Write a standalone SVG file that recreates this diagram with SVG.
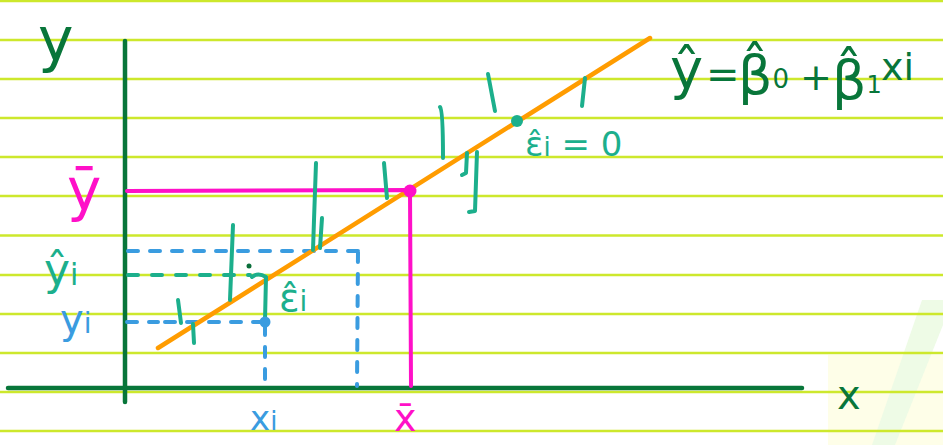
<svg xmlns="http://www.w3.org/2000/svg" width="943" height="445" viewBox="0 0 943 445">
<style>
.rule{stroke:#cde82c;stroke-width:2.5}
.axis{stroke:#08763a;stroke-width:4.5;stroke-linecap:round;fill:none}
.fit{stroke:#ff9c00;stroke-width:4.5;stroke-linecap:round;fill:none}
.mag{stroke:#ff10c8;stroke-width:4;stroke-linecap:round;fill:none}
.bdash{stroke:#3a9ce0;stroke-width:4;stroke-linecap:round;stroke-dasharray:10 12;fill:none}
.tdash{stroke:#1caf8c;stroke-width:4;stroke-linecap:round;stroke-dasharray:10 14;fill:none}
.res{stroke:#1caf8c;stroke-width:4;stroke-linecap:round;stroke-linejoin:round;fill:none}
.t{font-family:"DejaVu Sans","Liberation Sans",sans-serif}
.dg{fill:#08763a}.tl{fill:#1caf8c}.bl{fill:#3a9ce0}.mg{fill:#ff10c8}
</style>
<rect width="943" height="445" fill="#ffffff"/>
<g id="watermark">
<rect x="828" y="355" width="115" height="90" fill="#fefee8"/>
<polygon points="922,300 943,300 943,325 895,445 872,445" fill="#eefbe6"/>
</g>
<g id="ruling">
<line class="rule" x1="0" y1="1" x2="943" y2="1"/>
<line class="rule" x1="0" y1="40" x2="943" y2="40"/>
<line class="rule" x1="0" y1="79" x2="943" y2="79"/>
<line class="rule" x1="0" y1="118" x2="943" y2="118"/>
<line class="rule" x1="0" y1="157" x2="943" y2="157"/>
<line class="rule" x1="0" y1="196" x2="943" y2="196"/>
<line class="rule" x1="0" y1="235.5" x2="943" y2="235.5"/>
<line class="rule" x1="0" y1="275" x2="943" y2="275"/>
<line class="rule" x1="0" y1="314" x2="943" y2="314"/>
<line class="rule" x1="0" y1="353" x2="943" y2="353"/>
<line class="rule" x1="0" y1="392" x2="943" y2="392"/>
<line class="rule" x1="0" y1="431" x2="943" y2="431"/>
</g>
<g id="connectors">
<line class="axis" x1="125" y1="41" x2="125" y2="402"/>
<line class="axis" x1="8" y1="388" x2="802" y2="388"/>
<path class="bdash" d="M128 251 H358 M358 252 L357 386"/>
<path class="tdash" d="M128 275 H250"/>
<path class="bdash" d="M127 322 H158 M165 322 H263"/>
<path class="bdash" d="M265 325 L265 386" stroke-dasharray="8 10"/>
<line class="fit" x1="158" y1="348" x2="650" y2="38"/>
<path class="mag" d="M127 191 L410 190 L411 386"/>
<circle cx="410" cy="191" r="6.5" fill="#ff10c8"/>
<path class="res" d="M178 300 L181 323 M193 324 L194 343"/>
<path class="res" d="M233 225 L230 300"/>
<path class="res" d="M252 277 Q258 272 266 277 L265 320"/>
<circle cx="249" cy="266" r="2.5" fill="#0a6e3a"/>
<path class="res" d="M316 163 L314 220 L313 250 M322 218 L320 248"/>
<path class="res" d="M384 163 L387 198"/>
<path class="res" d="M440 107 Q443 110 443 158"/>
<path class="res" d="M488 74 L495 111"/>
<path class="res" d="M467 153 L466 173 L462 175"/>
<path class="res" d="M477 152 L475 211 L469 212"/>
<path class="res" d="M585 78 L582 106"/>
<circle cx="265" cy="322" r="5.5" fill="#3a9ce0"/>
<circle cx="517" cy="121" r="6" fill="#1caf8c"/>
</g>
<g id="label-y">
<text class="t dg" x="38" y="60" font-size="60">y</text>
</g>
<g id="label-x">
<text class="t dg" x="837" y="409" font-size="40">x</text>
</g>
<g id="label-ybar">
<text class="t mg" x="67" y="210" font-size="58">ȳ</text>
</g>
<g id="label-yhat-i">
<text class="t tl" x="44" y="285" font-size="44">ŷ<tspan font-size="30">i</tspan></text>
</g>
<g id="label-y-i">
<text class="t bl" x="60" y="333" font-size="40">y<tspan font-size="28">i</tspan></text>
</g>
<g id="label-x-i">
<text class="t bl" x="250" y="430" font-size="34">x<tspan font-size="26">i</tspan></text>
</g>
<g id="label-xbar">
<text class="t mg" x="394" y="431" font-size="38">x̄</text>
</g>
<g id="label-eps">
<text class="t tl" x="279" y="311" font-size="38">ε̂<tspan font-size="28">i</tspan></text>
</g>
<g id="label-eps-zero">
<text class="t tl" x="525" y="156" font-size="34">ε̂<tspan font-size="26">i</tspan> = 0</text>
</g>
<g id="formula">
<text class="t dg" x="670" y="88" font-size="56">ŷ</text>
<text class="t dg" x="706" y="88" font-size="40">=</text>
<text class="t dg" x="738" y="94" font-size="54">β̂<tspan font-size="26" dy="-6">0</tspan></text>
<text class="t dg" x="800" y="90" font-size="38">+</text>
<text class="t dg" x="832" y="99" font-size="54">β̂<tspan font-size="24" dy="-6">1</tspan></text>
<text class="t dg" x="881" y="80" font-size="38">xi</text>
</g>
</svg>
